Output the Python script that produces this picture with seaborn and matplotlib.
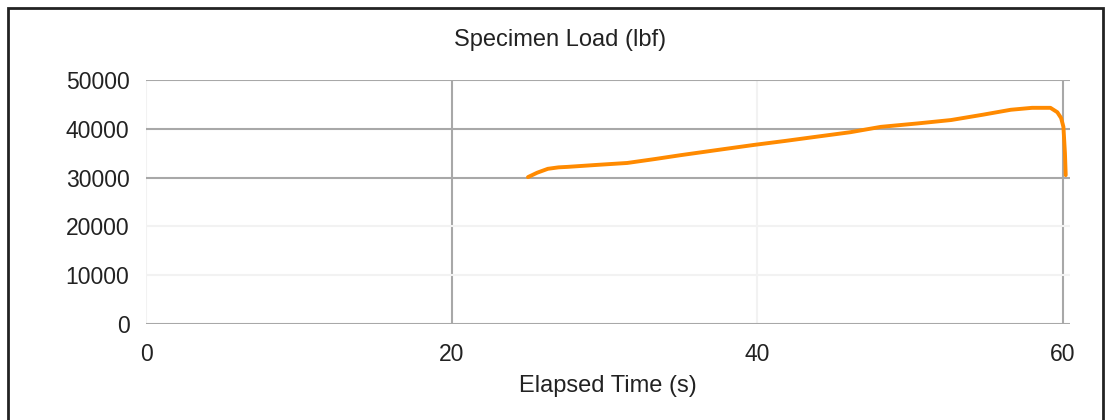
import matplotlib
matplotlib.use("Agg")
import matplotlib.pyplot as plt
import seaborn as sns
import pandas as pd
from matplotlib.patches import Rectangle

# values
elapsed_s = [25.0, 25.6, 26.3, 27.0, 27.6, 29.5, 31.5, 33.3, 35.0, 37.5,
             39.8, 41.8, 43.7, 46.1, 48.1, 50.5, 52.7, 54.8, 56.6, 58.0,
             59.2, 59.65, 59.9, 60.05, 60.15, 60.2]
load_lbf = [30100, 31000, 31800, 32100, 32200, 32600, 33000, 33800, 34600, 35700,
            36700, 37500, 38300, 39300, 40400, 41100, 41800, 42900, 43900, 44300,
            44300, 43400, 42200, 40400, 35000, 30500]
x_ticks = [0, 20, 40, 60]
y_ticks = [0, 10000, 20000, 30000, 40000, 50000]

df = pd.DataFrame({"Elapsed Time (s)": elapsed_s, "Specimen Load (lbf)": load_lbf})

sns.set_style("white")
plt.rcParams["font.family"] = ["Liberation Sans", "DejaVu Sans"]

fig = plt.figure(figsize=(11.09, 4.2), dpi=100)
ax = fig.add_axes([0.1317, 0.2286, 0.8334, 0.5809])

sns.lineplot(data=df, x="Elapsed Time (s)", y="Specimen Load (lbf)", ax=ax,
             color="#ff8a00", linewidth=2.8, sort=False, zorder=5)

ax.set_xlim(0, 60.5)
ax.set_ylim(0, 50000)
ax.set_xticks(x_ticks)
ax.set_yticks(y_ticks)
ax.set_xticklabels([str(v) for v in x_ticks], fontsize=16.5, color="#222222")
ax.set_yticklabels([str(v) for v in y_ticks], fontsize=16.5, color="#222222")
ax.tick_params(axis="y", length=10, width=1.5, color="#a8a8a8", pad=2)
ax.tick_params(axis="x", length=6, width=1.5, color="#a8a8a8", pad=8)

ax.grid(True, color="#a8a8a8", linewidth=1.5)
# some grid lines are barely visible in the reference
for i, gl in enumerate(ax.get_ygridlines()):
    if y_ticks[i] in (10000, 20000):
        gl.set_color("#f2f2f2")
for i, gl in enumerate(ax.get_xgridlines()):
    if x_ticks[i] in (0, 40):
        gl.set_color("#f2f2f2")

for s in ax.spines.values():
    s.set_visible(False)

ax.set_ylabel("")
ax.set_xlabel("Elapsed Time (s)", fontsize=17, color="#222222", labelpad=6)
fig.text(0.505, 0.905, "Specimen Load (lbf)", fontsize=17, color="#222222",
         ha="center", va="center")

# outer frame
fig.patches.append(Rectangle((8 / 1109, -0.05), (1103 - 8) / 1109, 1.05 - 8 / 420,
                             transform=fig.transFigure, fill=False,
                             edgecolor="#222222", linewidth=2))

fig.savefig("out.png", dpi=100)
